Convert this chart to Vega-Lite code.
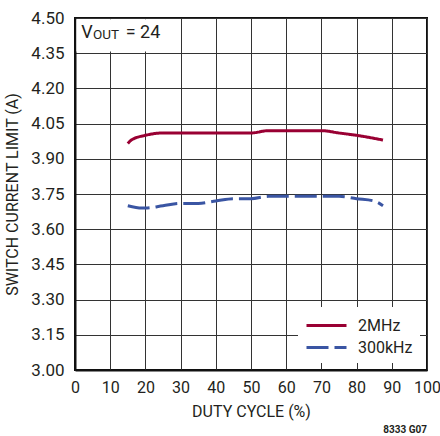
{
  "$schema": "https://vega.github.io/schema/vega-lite/v6.json",
  "width": 352,
  "height": 352,
  "autosize": {"type": "none"},
  "padding": {"left": 75, "top": 18, "right": 13, "bottom": 66},
  "background": "white",
  "config": {
    "font": "Roboto",
    "view": {"stroke": "#111", "strokeWidth": 2},
    "axis": {
      "labelFont": "Roboto",
      "titleFont": "Roboto",
      "labelColor": "#231f20",
      "titleColor": "#231f20",
      "labelFontSize": 17,
      "titleFontSize": 16,
      "titleFontWeight": "normal",
      "gridColor": "#333",
      "gridWidth": 1,
      "gridOpacity": 1,
      "ticks": false,
      "labelOverlap": false,
      "labelFlush": false,
      "domainColor": "#111",
      "domainWidth": 2
    },
    "legend": {"labelFont": "Roboto"}
  },
  "title": {
    "text": "8333 G07",
    "orient": "bottom",
    "anchor": "end",
    "frame": "group",
    "fontSize": 10,
    "fontWeight": "bold",
    "color": "#231f20",
    "offset": 6,
    "font": "Roboto"
  },
  "datasets": {
    "curves": [
      {"duty": 15, "limit": 3.965, "series": "2MHz"},
      {"duty": 16, "limit": 3.98, "series": "2MHz"},
      {"duty": 20, "limit": 4.0, "series": "2MHz"},
      {"duty": 25, "limit": 4.01, "series": "2MHz"},
      {"duty": 30, "limit": 4.01, "series": "2MHz"},
      {"duty": 40, "limit": 4.01, "series": "2MHz"},
      {"duty": 50, "limit": 4.01, "series": "2MHz"},
      {"duty": 55, "limit": 4.02, "series": "2MHz"},
      {"duty": 60, "limit": 4.02, "series": "2MHz"},
      {"duty": 70, "limit": 4.02, "series": "2MHz"},
      {"duty": 75, "limit": 4.01, "series": "2MHz"},
      {"duty": 80, "limit": 4.0, "series": "2MHz"},
      {"duty": 87.5, "limit": 3.98, "series": "2MHz"},
      {"duty": 15, "limit": 3.70, "series": "300kHz"},
      {"duty": 19, "limit": 3.69, "series": "300kHz"},
      {"duty": 20, "limit": 3.69, "series": "300kHz"},
      {"duty": 25, "limit": 3.70, "series": "300kHz"},
      {"duty": 30, "limit": 3.71, "series": "300kHz"},
      {"duty": 35, "limit": 3.71, "series": "300kHz"},
      {"duty": 40, "limit": 3.72, "series": "300kHz"},
      {"duty": 45, "limit": 3.73, "series": "300kHz"},
      {"duty": 50, "limit": 3.73, "series": "300kHz"},
      {"duty": 55, "limit": 3.74, "series": "300kHz"},
      {"duty": 70, "limit": 3.74, "series": "300kHz"},
      {"duty": 75, "limit": 3.74, "series": "300kHz"},
      {"duty": 80, "limit": 3.73, "series": "300kHz"},
      {"duty": 85, "limit": 3.72, "series": "300kHz"},
      {"duty": 87.5, "limit": 3.70, "series": "300kHz"}
    ],
    "one": [{}]
  },
  "layer": [
    {
      "data": {"name": "curves"},
      "mark": {"type": "line", "strokeWidth": 3, "interpolate": "monotone"},
      "encoding": {
        "x": {
          "field": "duty",
          "type": "quantitative",
          "scale": {"domain": [0, 100], "nice": false},
          "axis": {"values": [0,10,20,30,40,50,60,70,80,90,100], "title": "DUTY CYCLE (%)", "labelPadding": 9, "titlePadding": 8, "labelFontSize": 16}
        },
        "y": {
          "field": "limit",
          "type": "quantitative",
          "scale": {"domain": [3.0, 4.5], "nice": false, "zero": false},
          "axis": {
            "values": [3.0, 3.15, 3.3, 3.45, 3.6, 3.75, 3.9, 4.05, 4.2, 4.35, 4.5],
            "format": ".2f",
            "title": "SWITCH CURRENT LIMIT (A)",
            "labelPadding": 11,
            "titlePadding": 10
          }
        },
        "color": {
          "field": "series",
          "type": "nominal",
          "scale": {"domain": ["2MHz", "300kHz"], "range": ["#990033", "#3a55a3"]},
          "legend": {
            "title": null,
            "orient": "bottom-right",
            "offset": 7,
            "fillColor": "white",
            "padding": 7,
            "rowPadding": 2,
            "symbolType": "M-1,0H3",
            "symbolSize": 400,
            "symbolStrokeWidth": 3,
            "labelFontSize": 16,
            "labelColor": "#231f20",
            "labelOffset": 30
          }
        },
        "strokeDash": {
          "field": "series",
          "type": "nominal",
          "scale": {"domain": ["2MHz", "300kHz"], "range": [[1, 0], [22, 6]]},
          "legend": {
            "title": null,
            "orient": "bottom-right",
            "offset": 7,
            "fillColor": "white",
            "padding": 7,
            "rowPadding": 2,
            "symbolType": "M-1,0H3",
            "symbolSize": 400,
            "symbolStrokeWidth": 3,
            "labelFontSize": 16,
            "labelColor": "#231f20",
            "labelOffset": 30
          }
        }
      }
    },
    {
      "data": {"name": "one"},
      "mark": {"type": "rect", "fill": "white"},
      "encoding": {
        "x": {"datum": 0.4, "type": "quantitative", "scale": {"domain": [0, 100], "nice": false},
          "axis": {"values": [0,10,20,30,40,50,60,70,80,90,100], "title": "DUTY CYCLE (%)", "labelPadding": 9, "titlePadding": 8, "labelFontSize": 16}},
        "x2": {"datum": 25.3},
        "y": {"datum": 4.357, "type": "quantitative", "scale": {"domain": [3.0, 4.5], "nice": false, "zero": false},
          "axis": {
            "values": [3.0, 3.15, 3.3, 3.45, 3.6, 3.75, 3.9, 4.05, 4.2, 4.35, 4.5],
            "format": ".2f",
            "title": "SWITCH CURRENT LIMIT (A)",
            "labelPadding": 11,
            "titlePadding": 10
          }},
        "y2": {"datum": 4.495}
      }
    },
    {
      "data": {"name": "one"},
      "mark": {"type": "text", "align": "left", "baseline": "alphabetic", "fontSize": 18, "color": "#231f20"},
      "encoding": {
        "x": {"datum": 1.8, "type": "quantitative", "scale": {"domain": [0, 100], "nice": false},
          "axis": {"values": [0,10,20,30,40,50,60,70,80,90,100], "title": "DUTY CYCLE (%)", "labelPadding": 9, "titlePadding": 8, "labelFontSize": 16}},
        "y": {"datum": 4.413, "type": "quantitative", "scale": {"domain": [3.0, 4.5], "nice": false, "zero": false},
          "axis": {
            "values": [3.0, 3.15, 3.3, 3.45, 3.6, 3.75, 3.9, 4.05, 4.2, 4.35, 4.5],
            "format": ".2f",
            "title": "SWITCH CURRENT LIMIT (A)",
            "labelPadding": 11,
            "titlePadding": 10
          }},
        "text": {"value": "V"}
      }
    },
    {
      "data": {"name": "one"},
      "mark": {"type": "text", "align": "left", "baseline": "alphabetic", "fontSize": 13.5, "color": "#231f20"},
      "encoding": {
        "x": {"datum": 5.1, "type": "quantitative", "scale": {"domain": [0, 100], "nice": false},
          "axis": {"values": [0,10,20,30,40,50,60,70,80,90,100], "title": "DUTY CYCLE (%)", "labelPadding": 9, "titlePadding": 8, "labelFontSize": 16}},
        "y": {"datum": 4.409, "type": "quantitative", "scale": {"domain": [3.0, 4.5], "nice": false, "zero": false},
          "axis": {
            "values": [3.0, 3.15, 3.3, 3.45, 3.6, 3.75, 3.9, 4.05, 4.2, 4.35, 4.5],
            "format": ".2f",
            "title": "SWITCH CURRENT LIMIT (A)",
            "labelPadding": 11,
            "titlePadding": 10
          }},
        "text": {"value": "OUT"}
      }
    },
    {
      "data": {"name": "one"},
      "mark": {"type": "text", "align": "left", "baseline": "alphabetic", "fontSize": 18, "color": "#231f20"},
      "encoding": {
        "x": {"datum": 14.4, "type": "quantitative", "scale": {"domain": [0, 100], "nice": false},
          "axis": {"values": [0,10,20,30,40,50,60,70,80,90,100], "title": "DUTY CYCLE (%)", "labelPadding": 9, "titlePadding": 8, "labelFontSize": 16}},
        "y": {"datum": 4.413, "type": "quantitative", "scale": {"domain": [3.0, 4.5], "nice": false, "zero": false},
          "axis": {
            "values": [3.0, 3.15, 3.3, 3.45, 3.6, 3.75, 3.9, 4.05, 4.2, 4.35, 4.5],
            "format": ".2f",
            "title": "SWITCH CURRENT LIMIT (A)",
            "labelPadding": 11,
            "titlePadding": 10
          }},
        "text": {"value": "= 24"}
      }
    }
  ]
}
